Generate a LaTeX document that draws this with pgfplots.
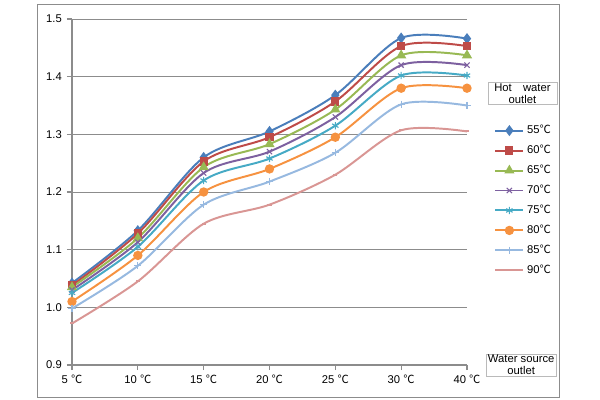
\documentclass[border=0pt]{standalone}
\usepackage{fontspec}
\setmainfont{Liberation Sans}
\newfontfamily\cjk{Noto Sans CJK SC}
\usepackage{pgfplots}
\pgfplotsset{compat=1.18}
\newcommand{\dc}{{\cjk ℃}}

\definecolor{c55}{HTML}{4A7EBB}
\definecolor{c60}{HTML}{BE4B48}
\definecolor{c65}{HTML}{98B954}
\definecolor{c70}{HTML}{7D60A0}
\definecolor{c75}{HTML}{46AAC5}
\definecolor{c80}{HTML}{F69240}
\definecolor{c85}{HTML}{97B9E0}
\definecolor{c90}{HTML}{D99694}
\definecolor{axgray}{HTML}{8C8C8C}

\begin{document}
\begin{tikzpicture}
% page 600x400 px -> 15cm x 10cm
\path (0,0) rectangle (15cm,10cm);
\draw[axgray, line width=0.6pt] (0.925cm,0.075cm) rectangle (13.975cm,9.9cm);

\begin{axis}[
    at={(1.8cm,0.875cm)}, anchor=south west,
    scale only axis,
    width=9.875cm, height=8.65cm,
    xmin=0, xmax=6, ymin=0.9, ymax=1.5,
    xtick={0,1,2,3,4,5,6},
    xticklabels={5 \dc,10 \dc,15 \dc,20 \dc,25 \dc,30 \dc,40 \dc},
    ytick={0.9,1.0,1.1,1.2,1.3,1.4,1.5},
    yticklabel style={/pgf/number format/.cd,fixed,fixed zerofill,precision=1,assume math mode=true},
    tick label style={font=\footnotesize},
    axis x line=bottom, axis y line=left,
    axis line style={axgray, line width=0.8pt, -},
    tick style={axgray, line width=0.8pt},
    tick align=outside,
    major tick length=0.13cm,
    ymajorgrids,
    grid style={axgray, line width=0.6pt},
    clip=false,
    every axis plot/.append style={smooth, tension=0.5, line width=1.4pt},
    legend style={at={(1.058,0.71)}, anchor=north west, draw=none, fill=none,
      font=\footnotesize, row sep=2.6pt},
    legend cell align=left,
    legend image code/.code={
      \draw[mark repeat=2, mark phase=2] plot coordinates {(0cm,0cm) (0.35cm,0cm) (0.7cm,0cm)};
    },
  ]
\addplot[c55, mark=diamond*, mark size=2.8pt, mark options={solid}] coordinates {
  (0,1.042) (1,1.133) (2,1.260) (3,1.305) (4,1.368) (5,1.467) (6,1.466)};
\addlegendentry{55\dc}
\addplot[c60, mark=square*, mark size=2.2pt] coordinates {
  (0,1.038) (1,1.128) (2,1.253) (3,1.295) (4,1.357) (5,1.453) (6,1.453)};
\addlegendentry{60\dc}
\addplot[c65, mark=triangle*, mark size=2.8pt] coordinates {
  (0,1.035) (1,1.120) (2,1.243) (3,1.283) (4,1.343) (5,1.437) (6,1.437)};
\addlegendentry{65\dc}
\addplot[c70, mark=x, mark size=2.6pt, mark options={line width=0.8pt}] coordinates {
  (0,1.030) (1,1.113) (2,1.233) (3,1.270) (4,1.330) (5,1.420) (6,1.420)};
\addlegendentry{70\dc}
\addplot[c75, mark=asterisk, mark size=2.6pt, mark options={line width=0.8pt}] coordinates {
  (0,1.025) (1,1.105) (2,1.220) (3,1.258) (4,1.315) (5,1.402) (6,1.402)};
\addlegendentry{75\dc}
\addplot[c80, mark=*, mark size=2.6pt] coordinates {
  (0,1.010) (1,1.090) (2,1.200) (3,1.240) (4,1.295) (5,1.380) (6,1.380)};
\addlegendentry{80\dc}
\addplot[c85, mark=+, mark size=2.6pt, mark options={line width=0.8pt}] coordinates {
  (0,0.998) (1,1.072) (2,1.178) (3,1.218) (4,1.268) (5,1.352) (6,1.350)};
\addlegendentry{85\dc}
\addplot[c90, mark=-, mark size=1.5pt] coordinates {
  (0,0.972) (1,1.045) (2,1.145) (3,1.178) (4,1.230) (5,1.307) (6,1.305)};
\addlegendentry{90\dc}
\end{axis}

\node[draw=axgray!60, line width=0.5pt, minimum width=1.725cm, minimum height=0.55cm,
  inner sep=0pt, align=center, font=\footnotesize\linespread{0.9}\selectfont]
  at (13.06cm,7.66cm) {Hot\quad water\\outlet};
\node[draw=axgray!60, line width=0.5pt, minimum width=1.75cm, minimum height=0.55cm,
  inner sep=0pt, align=center, font=\footnotesize\linespread{0.9}\selectfont]
  at (13.03cm,0.875cm) {Water source\\outlet};
\end{tikzpicture}
\end{document}
